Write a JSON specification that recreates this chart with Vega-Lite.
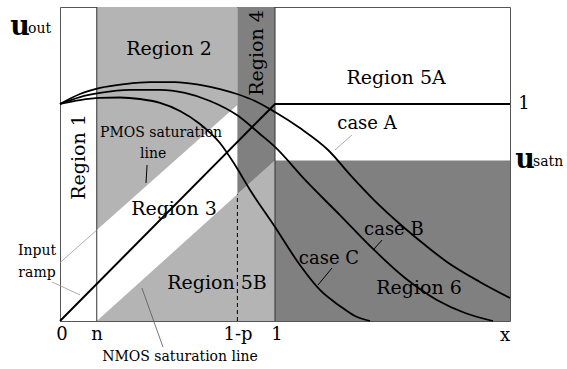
{
  "$schema": "https://vega.github.io/schema/vega-lite/v6.json",
  "width": 450,
  "height": 314,
  "autosize": {"type": "none"},
  "padding": {"left": 60, "top": 7, "right": 57, "bottom": 48},
  "background": "white",
  "config": {"view": {"stroke": "#555", "strokeWidth": 1}, "font": "DejaVu Serif"},
  "datasets": {
    "regions": [
      {"region": "R2", "shade": "light", "x": 0.171, "lo": 0.419, "hi": 1.447},
      {"region": "R2", "shade": "light", "x": 0.825, "lo": 0.995, "hi": 1.447},
      {"region": "R5B", "shade": "light", "x": 0.171, "lo": 0, "hi": 0},
      {"region": "R5B", "shade": "light", "x": 0.825, "lo": 0, "hi": 0.584},
      {"region": "R5B", "shade": "light", "x": 1.0, "lo": 0, "hi": 0.74},
      {"region": "R4", "shade": "dark", "x": 0.825, "lo": 0.584, "hi": 1.447},
      {"region": "R4", "shade": "dark", "x": 1.0, "lo": 0.74, "hi": 1.447},
      {"region": "R6", "shade": "dark", "x": 1.0, "lo": 0, "hi": 0.74},
      {"region": "R6", "shade": "dark", "x": 2.093, "lo": 0, "hi": 0.74}
    ],
    "segments": [
      {"kind": "boundary", "x": 0.171, "y": 0, "x2": 0.171, "y2": 1.447},
      {"kind": "boundary", "x": 1.0, "y": 0, "x2": 1.0, "y2": 1.447},
      {"kind": "dashed", "x": 0.825, "y": 0, "x2": 0.825, "y2": 0.584},
      {"kind": "light", "x": 0, "y": 0.269, "x2": 0.171, "y2": 0.419},
      {"kind": "light", "x": 1.279, "y": 0.788, "x2": 1.358, "y2": 0.857},
      {"kind": "light", "x": -0.037, "y": 0.18, "x2": 0.093, "y2": 0.12},
      {"kind": "mid", "x": 0.381, "y": 0.152, "x2": 0.479, "y2": -0.12},
      {"kind": "dark", "x": 0.405, "y": 0.719, "x2": 0.4, "y2": 0.636},
      {"kind": "dark", "x": 1.456, "y": 0.327, "x2": 1.498, "y2": 0.373},
      {"kind": "dark", "x": 1.2, "y": 0.166, "x2": 1.265, "y2": 0.244}
    ],
    "ramp": [
      {"x": 0, "y": 0},
      {"x": 1, "y": 1},
      {"x": 2.093, "y": 1}
    ],
    "curves": [
      {"case": "A", "x": 0, "y": 1.0},
      {"case": "A", "x": 0.093, "y": 1.046},
      {"case": "A", "x": 0.186, "y": 1.074},
      {"case": "A", "x": 0.302, "y": 1.092},
      {"case": "A", "x": 0.419, "y": 1.101},
      {"case": "A", "x": 0.535, "y": 1.101},
      {"case": "A", "x": 0.651, "y": 1.088},
      {"case": "A", "x": 0.744, "y": 1.069},
      {"case": "A", "x": 0.823, "y": 1.046},
      {"case": "A", "x": 0.907, "y": 1.014},
      {"case": "A", "x": 1.0, "y": 0.963},
      {"case": "A", "x": 1.116, "y": 0.889},
      {"case": "A", "x": 1.247, "y": 0.788},
      {"case": "A", "x": 1.358, "y": 0.664},
      {"case": "A", "x": 1.456, "y": 0.562},
      {"case": "A", "x": 1.581, "y": 0.447},
      {"case": "A", "x": 1.698, "y": 0.35},
      {"case": "A", "x": 1.8, "y": 0.272},
      {"case": "A", "x": 1.953, "y": 0.18},
      {"case": "A", "x": 2.093, "y": 0.106},
      {"case": "B", "x": 0, "y": 1.0},
      {"case": "B", "x": 0.093, "y": 1.032},
      {"case": "B", "x": 0.186, "y": 1.051},
      {"case": "B", "x": 0.326, "y": 1.065},
      {"case": "B", "x": 0.465, "y": 1.065},
      {"case": "B", "x": 0.581, "y": 1.051},
      {"case": "B", "x": 0.698, "y": 1.014},
      {"case": "B", "x": 0.823, "y": 0.949},
      {"case": "B", "x": 0.93, "y": 0.862},
      {"case": "B", "x": 1.0, "y": 0.802},
      {"case": "B", "x": 1.14, "y": 0.65},
      {"case": "B", "x": 1.302, "y": 0.488},
      {"case": "B", "x": 1.456, "y": 0.332},
      {"case": "B", "x": 1.605, "y": 0.198},
      {"case": "B", "x": 1.753, "y": 0.097},
      {"case": "B", "x": 1.884, "y": 0.037},
      {"case": "B", "x": 2.014, "y": 0.0},
      {"case": "C", "x": 0, "y": 1.0},
      {"case": "C", "x": 0.093, "y": 1.018},
      {"case": "C", "x": 0.186, "y": 1.028},
      {"case": "C", "x": 0.279, "y": 1.03},
      {"case": "C", "x": 0.372, "y": 1.023},
      {"case": "C", "x": 0.465, "y": 1.005},
      {"case": "C", "x": 0.558, "y": 0.968},
      {"case": "C", "x": 0.651, "y": 0.908},
      {"case": "C", "x": 0.744, "y": 0.82},
      {"case": "C", "x": 0.814, "y": 0.719},
      {"case": "C", "x": 0.884, "y": 0.604},
      {"case": "C", "x": 1.0, "y": 0.433},
      {"case": "C", "x": 1.116, "y": 0.258},
      {"case": "C", "x": 1.209, "y": 0.143},
      {"case": "C", "x": 1.302, "y": 0.069},
      {"case": "C", "x": 1.372, "y": 0.023},
      {"case": "C", "x": 1.442, "y": 0.0}
    ],
    "labels": [
      {"group": "big", "text": "Region 2", "x": 0.507, "y": 1.253},
      {"group": "big", "text": "Region 5A", "x": 1.563, "y": 1.12},
      {"group": "big", "text": "Region 3", "x": 0.53, "y": 0.516},
      {"group": "big", "text": "Region 5B", "x": 0.73, "y": 0.175},
      {"group": "big", "text": "Region 6", "x": 1.67, "y": 0.152},
      {"group": "rot", "text": "Region 1", "x": 0.088, "y": 0.756},
      {"group": "rot", "text": "Region 4", "x": 0.916, "y": 1.235},
      {"group": "case", "text": "case A", "x": 1.428, "y": 0.908},
      {"group": "case", "text": "case B", "x": 1.553, "y": 0.419},
      {"group": "case", "text": "case C", "x": 1.251, "y": 0.286},
      {"group": "tick", "text": "0", "x": 0.009, "y": -0.065},
      {"group": "tick", "text": "n", "x": 0.172, "y": -0.065},
      {"group": "tick", "text": "1-p", "x": 0.828, "y": -0.065},
      {"group": "tick", "text": "1", "x": 1.009, "y": -0.065},
      {"group": "tick", "text": "x", "x": 2.07, "y": -0.069},
      {"group": "tick", "text": "1", "x": 2.158, "y": 1.0},
      {"group": "small", "text": "PMOS saturation", "x": 0.47, "y": 0.866},
      {"group": "small", "text": "line", "x": 0.433, "y": 0.77},
      {"group": "small", "text": "Input", "x": -0.107, "y": 0.323},
      {"group": "small", "text": "ramp", "x": -0.107, "y": 0.221},
      {"group": "small", "text": "NMOS saturation line", "x": 0.558, "y": -0.166},
      {"group": "ubig", "text": "u", "x": -0.186, "y": 1.355},
      {"group": "ubig", "text": "u", "x": 2.163, "y": 0.742},
      {"group": "sub", "text": "out", "x": -0.149, "y": 1.345},
      {"group": "sub", "text": "satn", "x": 2.2, "y": 0.733}
    ]
  },
  "encoding": {
    "x": {"type": "quantitative", "scale": {"domain": [0, 2.093], "nice": false, "zero": false}, "axis": null},
    "y": {"type": "quantitative", "scale": {"domain": [0, 1.447], "nice": false, "zero": false}, "axis": null}
  },
  "layer": [
    {
      "data": {"name": "regions"},
      "mark": {"type": "area", "interpolate": "linear"},
      "encoding": {
        "x": {"field": "x", "type": "quantitative"},
        "y": {"field": "lo", "type": "quantitative", "stack": null},
        "y2": {"field": "hi"},
        "fill": {"field": "shade", "type": "nominal", "scale": {"domain": ["light", "dark"], "range": ["#b4b4b4", "#808080"]}, "legend": null},
        "detail": {"field": "region"}
      }
    },
    {
      "data": {"name": "segments"},
      "transform": [{"filter": "datum.kind === 'boundary'"}],
      "mark": {"type": "rule", "color": "#333", "strokeWidth": 1},
      "encoding": {"x": {"field": "x", "type": "quantitative"}, "y": {"field": "y", "type": "quantitative"}, "x2": {"field": "x2"}, "y2": {"field": "y2"}}
    },
    {
      "data": {"name": "segments"},
      "transform": [{"filter": "datum.kind === 'dashed'"}],
      "mark": {"type": "rule", "color": "#000", "strokeWidth": 1, "strokeDash": [4, 3]},
      "encoding": {"x": {"field": "x", "type": "quantitative"}, "y": {"field": "y", "type": "quantitative"}, "x2": {"field": "x2"}, "y2": {"field": "y2"}}
    },
    {
      "data": {"name": "segments"},
      "transform": [{"filter": "datum.kind === 'light'"}],
      "mark": {"type": "rule", "color": "#999", "strokeWidth": 0.8},
      "encoding": {"x": {"field": "x", "type": "quantitative"}, "y": {"field": "y", "type": "quantitative"}, "x2": {"field": "x2"}, "y2": {"field": "y2"}}
    },
    {
      "data": {"name": "segments"},
      "transform": [{"filter": "datum.kind === 'mid'"}],
      "mark": {"type": "rule", "color": "#555", "strokeWidth": 0.8},
      "encoding": {"x": {"field": "x", "type": "quantitative"}, "y": {"field": "y", "type": "quantitative"}, "x2": {"field": "x2"}, "y2": {"field": "y2"}}
    },
    {
      "data": {"name": "segments"},
      "transform": [{"filter": "datum.kind === 'dark'"}],
      "mark": {"type": "rule", "color": "#000", "strokeWidth": 1},
      "encoding": {"x": {"field": "x", "type": "quantitative"}, "y": {"field": "y", "type": "quantitative"}, "x2": {"field": "x2"}, "y2": {"field": "y2"}}
    },
    {
      "data": {"name": "ramp"},
      "mark": {"type": "line", "color": "#000", "strokeWidth": 2},
      "encoding": {"x": {"field": "x", "type": "quantitative"}, "y": {"field": "y", "type": "quantitative"}}
    },
    {
      "data": {"name": "curves"},
      "mark": {"type": "line", "color": "#000", "strokeWidth": 1.8, "interpolate": "monotone"},
      "encoding": {"x": {"field": "x", "type": "quantitative"}, "y": {"field": "y", "type": "quantitative"}, "detail": {"field": "case"}}
    },
    {
      "data": {"name": "labels"},
      "transform": [{"filter": "datum.group === 'big'"}],
      "mark": {"type": "text", "fontSize": 19, "align": "center", "baseline": "middle", "color": "#000"},
      "encoding": {"x": {"field": "x", "type": "quantitative"}, "y": {"field": "y", "type": "quantitative"}, "text": {"field": "text"}}
    },
    {
      "data": {"name": "labels"},
      "transform": [{"filter": "datum.group === 'rot'"}],
      "mark": {"type": "text", "fontSize": 19, "align": "center", "baseline": "middle", "angle": 270, "color": "#000"},
      "encoding": {"x": {"field": "x", "type": "quantitative"}, "y": {"field": "y", "type": "quantitative"}, "text": {"field": "text"}}
    },
    {
      "data": {"name": "labels"},
      "transform": [{"filter": "datum.group === 'case' || datum.group === 'tick'"}],
      "mark": {"type": "text", "fontSize": 18, "align": "center", "baseline": "middle", "color": "#000"},
      "encoding": {"x": {"field": "x", "type": "quantitative"}, "y": {"field": "y", "type": "quantitative"}, "text": {"field": "text"}}
    },
    {
      "data": {"name": "labels"},
      "transform": [{"filter": "datum.group === 'small'"}],
      "mark": {"type": "text", "fontSize": 14, "align": "center", "baseline": "middle", "color": "#000"},
      "encoding": {"x": {"field": "x", "type": "quantitative"}, "y": {"field": "y", "type": "quantitative"}, "text": {"field": "text"}}
    },
    {
      "data": {"name": "labels"},
      "transform": [{"filter": "datum.group === 'ubig'"}],
      "mark": {"type": "text", "fontSize": 27, "fontWeight": "bold", "align": "center", "baseline": "middle", "color": "#000"},
      "encoding": {"x": {"field": "x", "type": "quantitative"}, "y": {"field": "y", "type": "quantitative"}, "text": {"field": "text"}}
    },
    {
      "data": {"name": "labels"},
      "transform": [{"filter": "datum.group === 'sub'"}],
      "mark": {"type": "text", "fontSize": 14, "align": "left", "baseline": "middle", "color": "#000"},
      "encoding": {"x": {"field": "x", "type": "quantitative"}, "y": {"field": "y", "type": "quantitative"}, "text": {"field": "text"}}
    }
  ]
}
